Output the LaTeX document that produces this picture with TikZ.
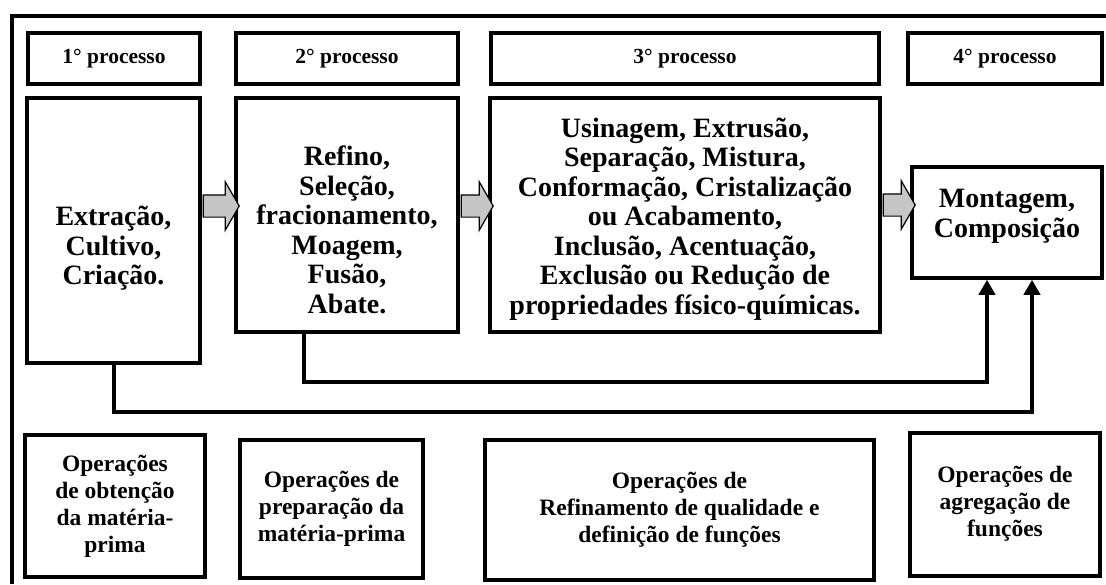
\documentclass[tikz,border=0pt]{standalone}
\usepackage{fontspec}
\setmainfont{Liberation Serif}
\usetikzlibrary{positioning,arrows.meta,shapes.arrows}

\begin{document}
\begin{tikzpicture}[
  x=1pt, y=-1pt,
  hdr/.style={draw, line width=3.5pt, minimum height=51pt, font=\fontsize{21.5}{25}\selectfont\bfseries, inner sep=0pt},
  stage/.style={draw, line width=3.5pt, inner sep=0pt},
  txt/.style={font=\fontsize{28}{29.5}\selectfont\bfseries, align=center, inner sep=0pt},
  ops/.style={draw, line width=4pt, font=\fontsize{23.5}{27}\selectfont\bfseries, align=center, inner sep=0pt},
  garr/.style={single arrow, draw, line width=1.2pt, fill=gray!45, inner xsep=0pt, inner ysep=10.5pt, single arrow head extend=13pt, single arrow tip angle=120, minimum width=47pt},
  conn/.style={line width=4pt, -{Triangle[width=16pt,length=15pt]}},
  >=stealth
]
\useasboundingbox (0,0) rectangle (1106,584);

% ── Outer frame ──────────────────────────────────────────────
\draw[line width=4.5pt] (12,584) -- (12,16) -- (1106,16);

% ── Process headers ──────────────────────────────────────────
\node[hdr, minimum width=172pt] (h1) at (114,58.5)  {1° processo};
\node[hdr, minimum width=222pt] (h2) at (347,58.5)  {2° processo};
\node[hdr, minimum width=388pt] (h3) at (685,58.5)  {3° processo};
\node[hdr, minimum width=194pt] (h4) at (1005,58.5) {4° processo};

% ── Process boxes ────────────────────────────────────────────
\node[stage, minimum width=173pt, minimum height=265pt] (ext)  at (113.5,230.5) {};
\node[stage, minimum width=222pt, minimum height=234pt] (ref)  at (347,215)    {};
\node[stage, minimum width=390pt, minimum height=234pt] (usi)  at (685,215)    {};
\node[stage, minimum width=190pt, minimum height=111pt] (mont) at (1007,222.5) {};

\node[txt] (extT)  at ([yshift=-18pt]ext.center)  {Extração,\\Cultivo,\\Criação.};
\node[txt] (refT)  at ([yshift=-15pt]ref.center)  {Refino,\\Seleção,\\fracionamento,\\Moagem,\\Fusão,\\Abate.};
\node[txt] (usiT)  at ([yshift=-4pt]usi.center)   {Usinagem, Extrusão,\\Separação, Mistura,\\Conformação, Cristalização\\ou Acabamento,\\Inclusão, Acentuação,\\Exclusão ou Redução de\\propriedades físico-químicas.};
\node[txt] (montT) at ([yshift=6pt]mont.center)   {Montagem,\\Composição};

% ── Gray block arrows ────────────────────────────────────────
\node[garr, minimum height=36pt] (a1) at (218,206) {};
\node[garr, minimum height=32pt] (a2) at (474,206) {};
\node[garr, minimum height=32pt] (a3) at (896,205) {};

% ── Direct paths to assembly ─────────────────────────────────
\draw[conn] ([xshift=-43pt]ref.south) -- ++(0,48) -| ([xshift=-20pt]mont.south);
\draw[conn] (ext.south) -- ++(0,47) -| ([xshift=25pt]mont.south);

% ── Operation boxes ──────────────────────────────────────────
\node[ops, minimum width=180pt, minimum height=142pt] (op1) at (115,506)    {Operações\\de obtenção\\da matéria-\\prima};
\node[ops, minimum width=183pt, minimum height=138pt] (op2) at (331.5,509)  {Operações de\\preparação da\\matéria-prima};
\node[ops, minimum width=389pt, minimum height=140pt] (op3) at (679.5,510)  {Operações de\\Refinamento de qualidade e\\definição de funções};
\node[ops, minimum width=190pt, minimum height=143pt] (op4) at (1005,504)   {Operações de\\agregação de\\funções};

\end{tikzpicture}
\end{document}
